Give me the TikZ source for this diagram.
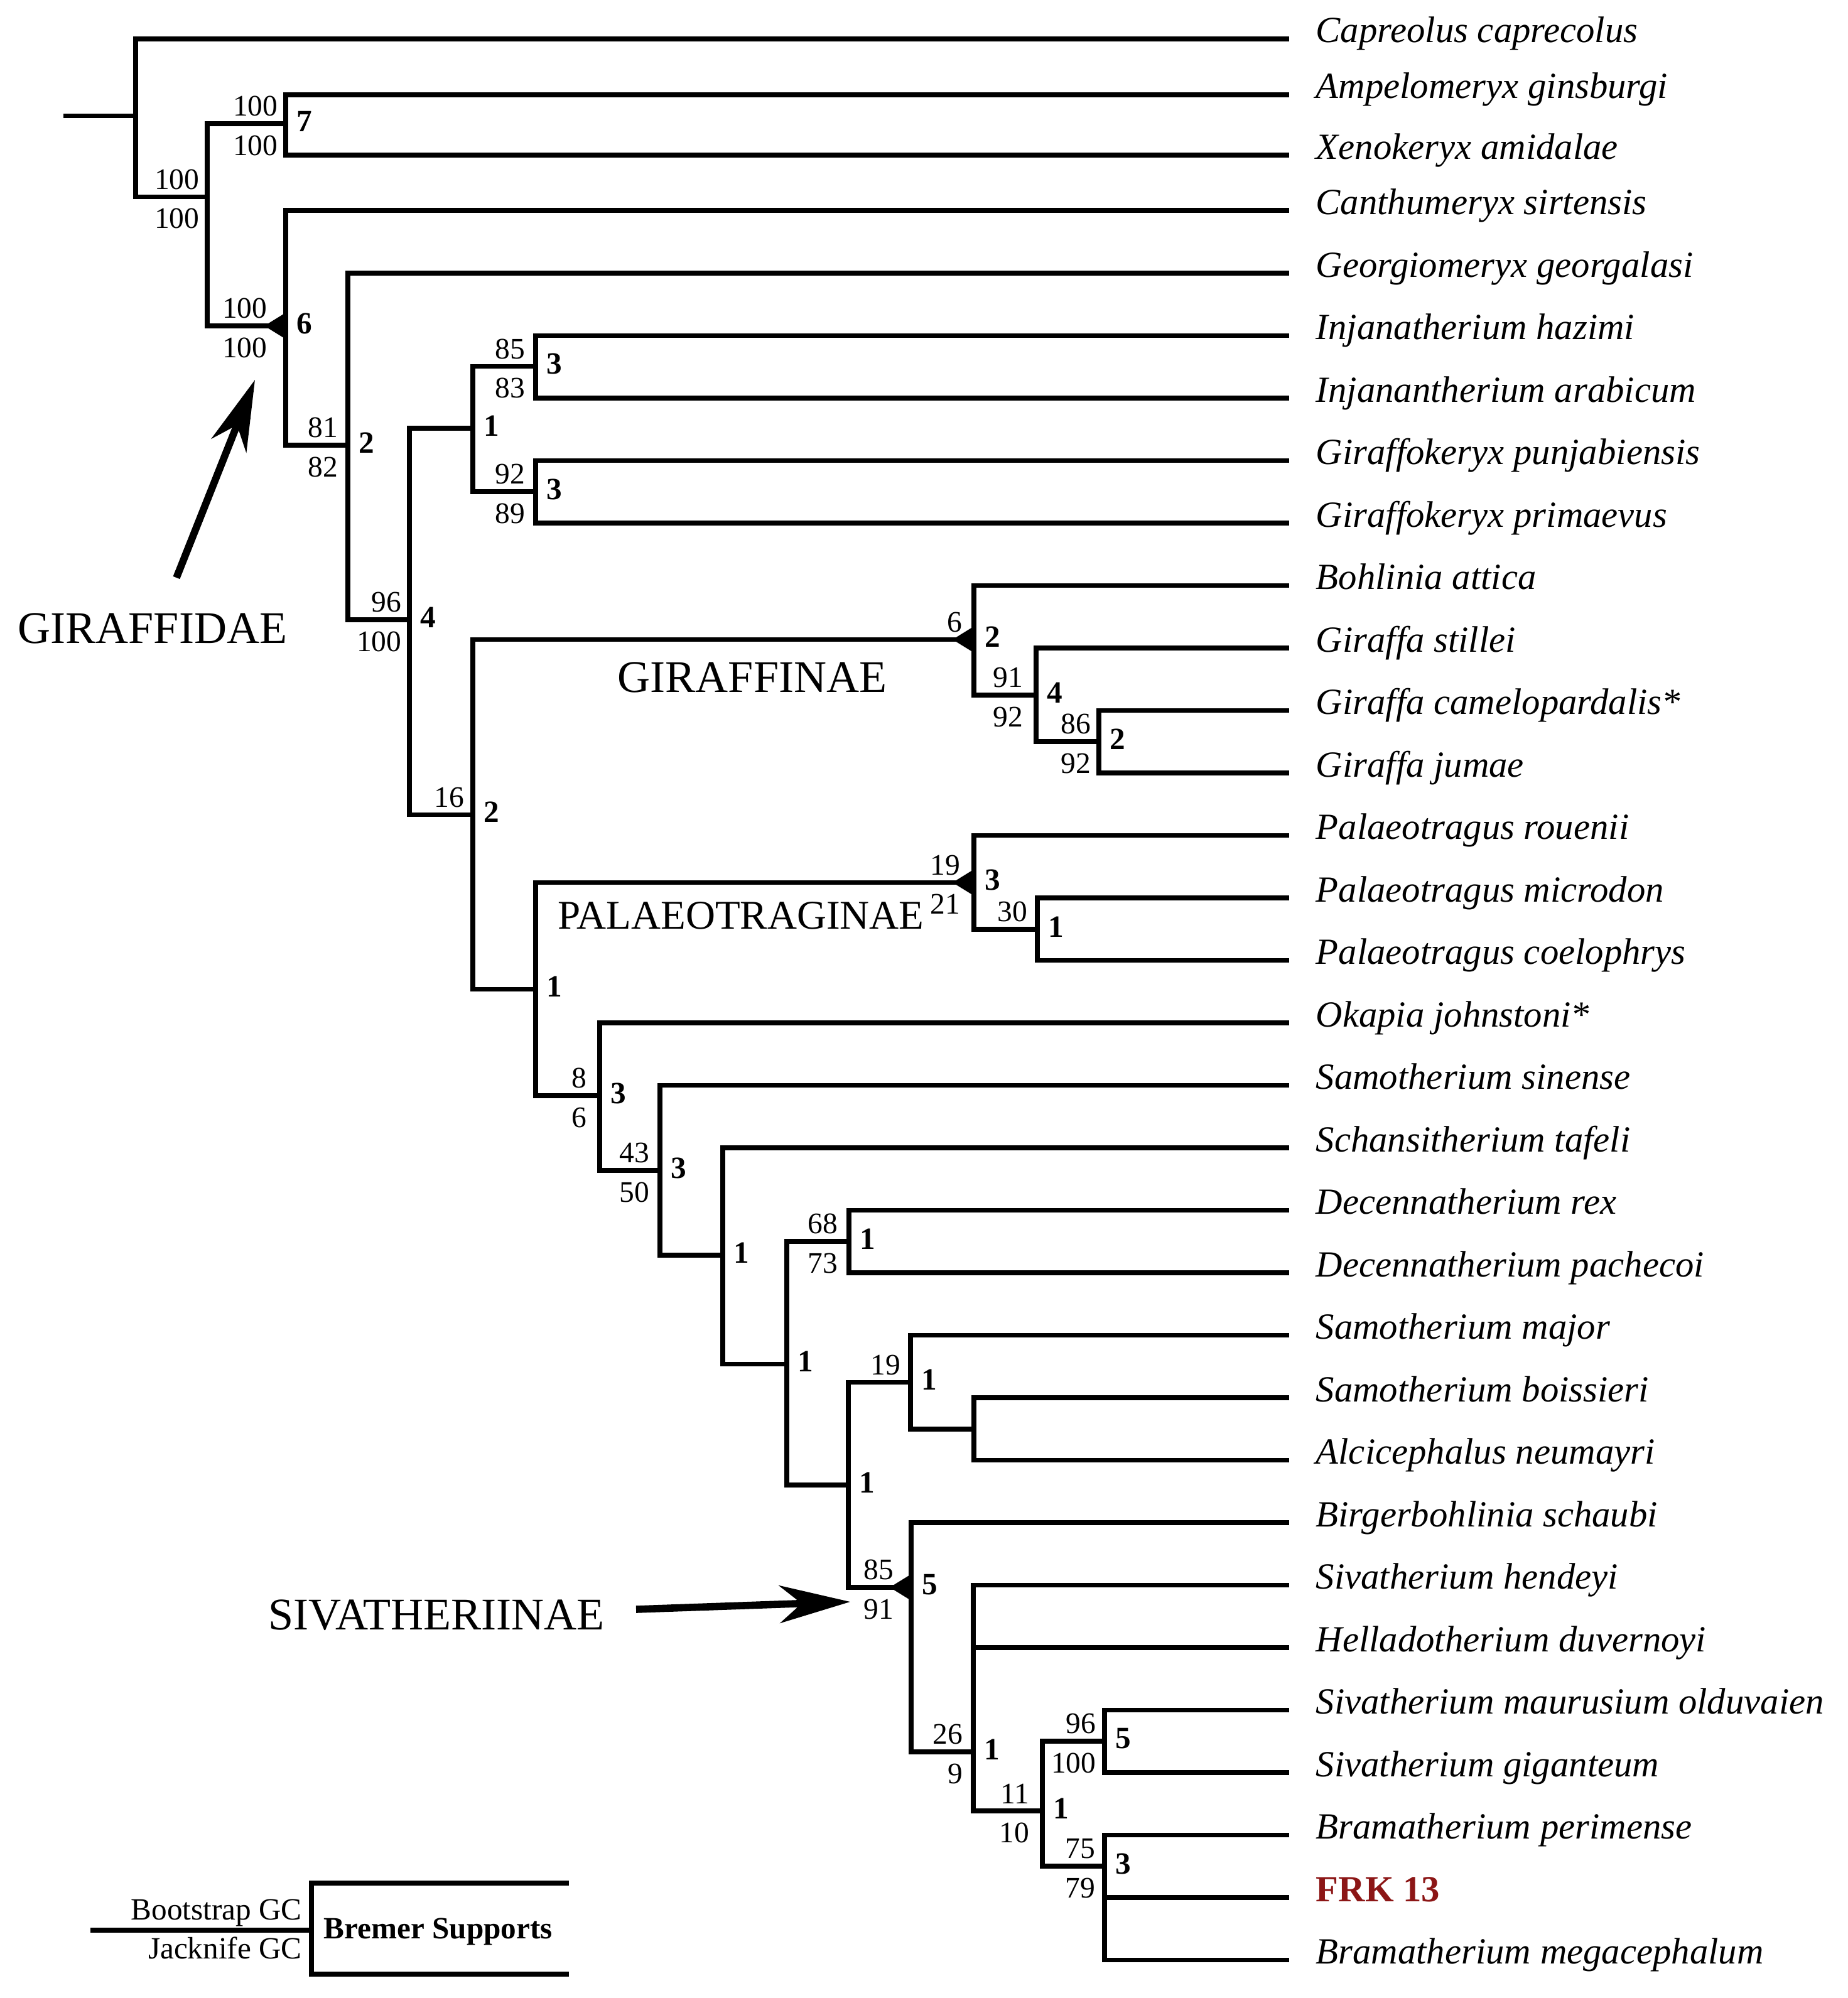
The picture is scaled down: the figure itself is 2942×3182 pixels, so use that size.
\documentclass[tikz,border=0pt]{standalone}
\usepackage{fontspec}
\setmainfont{Liberation Serif}
\usetikzlibrary{arrows.meta}

\definecolor{frkred}{RGB}{140,22,22}

% bootstrap / jackknife / Bremer values beside a node
\newcommand{\support}[5]{%
  \path (#1) ++(-#2,-11) node[boot] (#1 bs) {#3} ++(0,29) node[jack] (#1 jk) {#4};
  \path (#1) ++(17,-4) node[brem] (#1 br) {#5};}
% black wedge on a named clade
\newcommand{\cladewedge}[1]{\fill (#1) -- ++(0,-21) -- ++(-34,21) -- ++(34,21) -- cycle;}

\begin{document}
\begin{tikzpicture}[x=0.01cm, y=-0.01cm,
    branch/.style={line width=2.2pt},
    taxon/.style={anchor=west, inner xsep=0.42cm, inner ysep=0pt, text height=0.6em, text depth=0.25em,
                  font=\fontsize{16.7pt}{20pt}\selectfont\itshape},
    boot/.style={anchor=south east, inner sep=0pt, font=\fontsize{13.5pt}{16pt}\selectfont},
    jack/.style={anchor=north east, inner sep=0pt, font=\fontsize{13.5pt}{16pt}\selectfont},
    brem/.style={anchor=west, inner sep=0pt, font=\fontsize{14pt}{16pt}\selectfont\bfseries},
    clade/.style={inner sep=0pt, font=\fontsize{20.5pt}{24pt}\selectfont},
    pointer/.style={line width=3.3pt, -{Stealth[length=32pt, width=17pt, inset=10pt]}},
    keytext/.style={inner sep=0pt, font=\fontsize{14pt}{16pt}\selectfont}]
    \useasboundingbox (0,0) rectangle (2942,3182);

    % taxa
    \node[taxon] (capreolus)      at (2053,61.7)   {Capreolus caprecolus};
    \node[taxon] (ampelomeryx)    at (2053,150.8)  {Ampelomeryx ginsburgi};
    \node[taxon] (xenokeryx)      at (2053,246.9)  {Xenokeryx amidalae};
    \node[taxon] (canthumeryx)    at (2053,335.3)  {Canthumeryx sirtensis};
    \node[taxon] (georgiomeryx)   at (2053,434.9)  {Georgiomeryx georgalasi};
    \node[taxon] (hazimi)         at (2053,534.4)  {Injanatherium hazimi};
    \node[taxon] (arabicum)       at (2053,633.9)  {Injanantherium arabicum};
    \node[taxon] (punjabiensis)   at (2053,733.4)  {Giraffokeryx punjabiensis};
    \node[taxon] (primaevus)      at (2053,832.9)  {Giraffokeryx primaevus};
    \node[taxon] (bohlinia)       at (2053,932.4)  {Bohlinia attica};
    \node[taxon] (stillei)        at (2053,1031.9) {Giraffa stillei};
    \node[taxon] (camelopardalis) at (2053,1131.4) {Giraffa camelopardalis*};
    \node[taxon] (jumae)          at (2053,1230.9) {Giraffa jumae};
    \node[taxon] (rouenii)        at (2053,1330.4) {Palaeotragus rouenii};
    \node[taxon] (microdon)       at (2053,1429.9) {Palaeotragus microdon};
    \node[taxon] (coelophrys)     at (2053,1529.4) {Palaeotragus coelophrys};
    \node[taxon] (okapia)         at (2053,1628.9) {Okapia johnstoni*};
    \node[taxon] (sinense)        at (2053,1728.4) {Samotherium sinense};
    \node[taxon] (schansi)        at (2053,1827.9) {Schansitherium tafeli};
    \node[taxon] (rex)            at (2053,1927.4) {Decennatherium rex};
    \node[taxon] (pachecoi)       at (2053,2026.9) {Decennatherium pachecoi};
    \node[taxon] (major)          at (2053,2126.4) {Samotherium major};
    \node[taxon] (boissieri)      at (2053,2225.9) {Samotherium boissieri};
    \node[taxon] (alcicephalus)   at (2053,2325.4) {Alcicephalus neumayri};
    \node[taxon] (birger)         at (2053,2424.9) {Birgerbohlinia schaubi};
    \node[taxon] (hendeyi)        at (2053,2524.4) {Sivatherium hendeyi};
    \node[taxon] (helladot)       at (2053,2623.9) {Helladotherium duvernoyi};
    \node[taxon] (maurusium)      at (2053,2723.4) {Sivatherium maurusium olduvaien};
    \node[taxon] (giganteum)      at (2053,2822.9) {Sivatherium giganteum};
    \node[taxon] (perimense)      at (2053,2922.4) {Bramatherium perimense};
    \node[taxon, font=\fontsize{16.7pt}{20pt}\selectfont\bfseries, text=frkred]
                 (frk)            at (2053,3021.9) {FRK 13};
    \node[taxon] (megacephalum)   at (2053,3121.4) {Bramatherium megacephalum};

    % internal nodes
    \coordinate (base)          at (101,184.5);
    \coordinate (root)          at (216,184.5);
    \coordinate (crown)         at (330,313.6);
    \coordinate (ampxen)        at (455,197);
    \coordinate (giraffidae)    at (455,519);
    \coordinate (georg)         at (554,709);
    \coordinate (core)          at (652,987);
    \coordinate (injgir)        at (753,682);
    \coordinate (injana)        at (853,583.5);
    \coordinate (giraffok)      at (853,783);
    \coordinate (higher)        at (753,1297.5);
    \coordinate (giraffinae)    at (1551,1018.5);
    \coordinate (giraffa)       at (1650,1107);
    \coordinate (camjum)        at (1750,1181);
    \coordinate (palsiv)        at (853,1575.5);
    \coordinate (palaeo)        at (1551,1405.5);
    \coordinate (palmc)         at (1652,1480);
    \coordinate (okasiv)        at (955,1745);
    \coordinate (samsiv)        at (1051,1864);
    \coordinate (schsiv)        at (1151,1999);
    \coordinate (decsiv)        at (1253,2172.5);
    \coordinate (decenn)        at (1352,1977);
    \coordinate (majsiv)        at (1351,2365);
    \coordinate (samoth)        at (1450,2201.5);
    \coordinate (boisalc)       at (1551,2276);
    \coordinate (sivatheriinae) at (1451,2528);
    \coordinate (sivgrp)        at (1550,2790);
    \coordinate (sivbram)       at (1660,2884);
    \coordinate (sivath)        at (1759,2773);
    \coordinate (bramath)       at (1759,2972);

    % branches
    \draw[branch] (base) -- (root);
    \draw[branch] (root) |- (capreolus.west) (root) |- (crown);
    \draw[branch] (crown) |- (ampxen) (crown) |- (giraffidae);
    \draw[branch] (ampxen) |- (ampelomeryx.west) (ampxen) |- (xenokeryx.west);
    \draw[branch] (giraffidae) |- (canthumeryx.west) (giraffidae) |- (georg);
    \draw[branch] (georg) |- (georgiomeryx.west) (georg) |- (core);
    \draw[branch] (core) |- (injgir) (core) |- (higher);
    \draw[branch] (injgir) |- (injana) (injgir) |- (giraffok);
    \draw[branch] (injana) |- (hazimi.west) (injana) |- (arabicum.west);
    \draw[branch] (giraffok) |- (punjabiensis.west) (giraffok) |- (primaevus.west);
    \draw[branch] (higher) |- (giraffinae) (higher) |- (palsiv);
    \draw[branch] (giraffinae) |- (bohlinia.west) (giraffinae) |- (giraffa);
    \draw[branch] (giraffa) |- (stillei.west) (giraffa) |- (camjum);
    \draw[branch] (camjum) |- (camelopardalis.west) (camjum) |- (jumae.west);
    \draw[branch] (palsiv) |- (palaeo) (palsiv) |- (okasiv);
    \draw[branch] (palaeo) |- (rouenii.west) (palaeo) |- (palmc);
    \draw[branch] (palmc) |- (microdon.west) (palmc) |- (coelophrys.west);
    \draw[branch] (okasiv) |- (okapia.west) (okasiv) |- (samsiv);
    \draw[branch] (samsiv) |- (sinense.west) (samsiv) |- (schsiv);
    \draw[branch] (schsiv) |- (schansi.west) (schsiv) |- (decsiv);
    \draw[branch] (decsiv) |- (decenn) (decsiv) |- (majsiv);
    \draw[branch] (decenn) |- (rex.west) (decenn) |- (pachecoi.west);
    \draw[branch] (majsiv) |- (samoth) (majsiv) |- (sivatheriinae);
    \draw[branch] (samoth) |- (major.west) (samoth) |- (boisalc);
    \draw[branch] (boisalc) |- (boissieri.west) (boisalc) |- (alcicephalus.west);
    \draw[branch] (sivatheriinae) |- (birger.west) (sivatheriinae) |- (sivgrp);
    \draw[branch] (sivgrp) |- (hendeyi.west) (sivgrp) |- (helladot.west) (sivgrp) |- (sivbram);
    \draw[branch] (sivbram) |- (sivath) (sivbram) |- (bramath);
    \draw[branch] (sivath) |- (maurusium.west) (sivath) |- (giganteum.west);
    \draw[branch] (bramath) |- (perimense.west) (bramath) |- (frk.west) (bramath) |- (megacephalum.west);

    \cladewedge{giraffidae}
    \cladewedge{giraffinae}
    \cladewedge{palaeo}
    \cladewedge{sivatheriinae}

    % support values
    \support{crown}{12}{100}{100}{}
    \support{ampxen}{12}{100}{100}{7}
    \support{giraffidae}{29}{100}{100}{6}
    \support{georg}{15}{81}{82}{2}
    \support{core}{12}{96}{100}{4}
    \support{injgir}{16}{}{}{1}
    \support{injana}{16}{85}{83}{3}
    \support{giraffok}{16}{92}{89}{3}
    \support{higher}{13}{16}{}{2}
    \support{giraffinae}{18}{6}{}{2}
    \support{giraffa}{20}{91}{92}{4}
    \support{camjum}{12}{86}{92}{2}
    \support{palsiv}{16}{}{}{1}
    \support{palaeo}{21}{19}{21}{3}
    \support{palmc}{15}{30}{}{1}
    \support{okasiv}{20}{8}{6}{3}
    \support{samsiv}{16}{43}{50}{3}
    \support{schsiv}{16}{}{}{1}
    \support{decsiv}{16}{}{}{1}
    \support{decenn}{17}{68}{73}{1}
    \support{majsiv}{16}{}{}{1}
    \support{samoth}{15}{19}{}{1}
    \support{sivatheriinae}{27}{85}{91}{5}
    \support{sivgrp}{16}{26}{9}{1}
    \support{sivbram}{20}{11}{10}{1}
    \support{sivath}{13}{96}{100}{5}
    \support{bramath}{14}{75}{79}{3}

    % clade names
    \node[clade] (giraffidae name)  at (243,1001)  {GIRAFFIDAE};
    \node[clade] (giraffinae name)  at (1198,1079) {GIRAFFINAE};
    \node[clade, font=\fontsize{18.5pt}{22pt}\selectfont]
                 (palaeo name)      at (1180,1458) {PALAEOTRAGINAE};
    \node[clade] (sivatheriinae name) at (695,2572) {SIVATHERIINAE};

    \coordinate (giraffidae tail) at (281,920);
    \coordinate (giraffidae tip)  at (406,605);
    \coordinate (siv tail)        at (1013,2563);
    \coordinate (siv tip)         at (1354,2551);
    \draw[pointer] (giraffidae tail) -- (giraffidae tip);
    \draw[pointer] (siv tail) -- (siv tip);

    % key
    \coordinate (key in)     at (143.5,3074);
    \coordinate (key root)   at (496,3074);
    \coordinate (key top)    at (906,2999);
    \coordinate (key bottom) at (906,3144);
    \draw[branch] (key in) -- (key root) (key root) |- (key top) (key root) |- (key bottom);
    \node[keytext, anchor=base east] (key boot) at (481.5,3057) {Bootstrap GC};
    \node[keytext, anchor=base east] (key jack) at (481.5,3119) {Jacknife GC};
    \node[keytext, anchor=west, font=\fontsize{14pt}{16pt}\selectfont\bfseries]
         (key bremer) at (515,3076) {Bremer Supports};
\end{tikzpicture}
\end{document}
